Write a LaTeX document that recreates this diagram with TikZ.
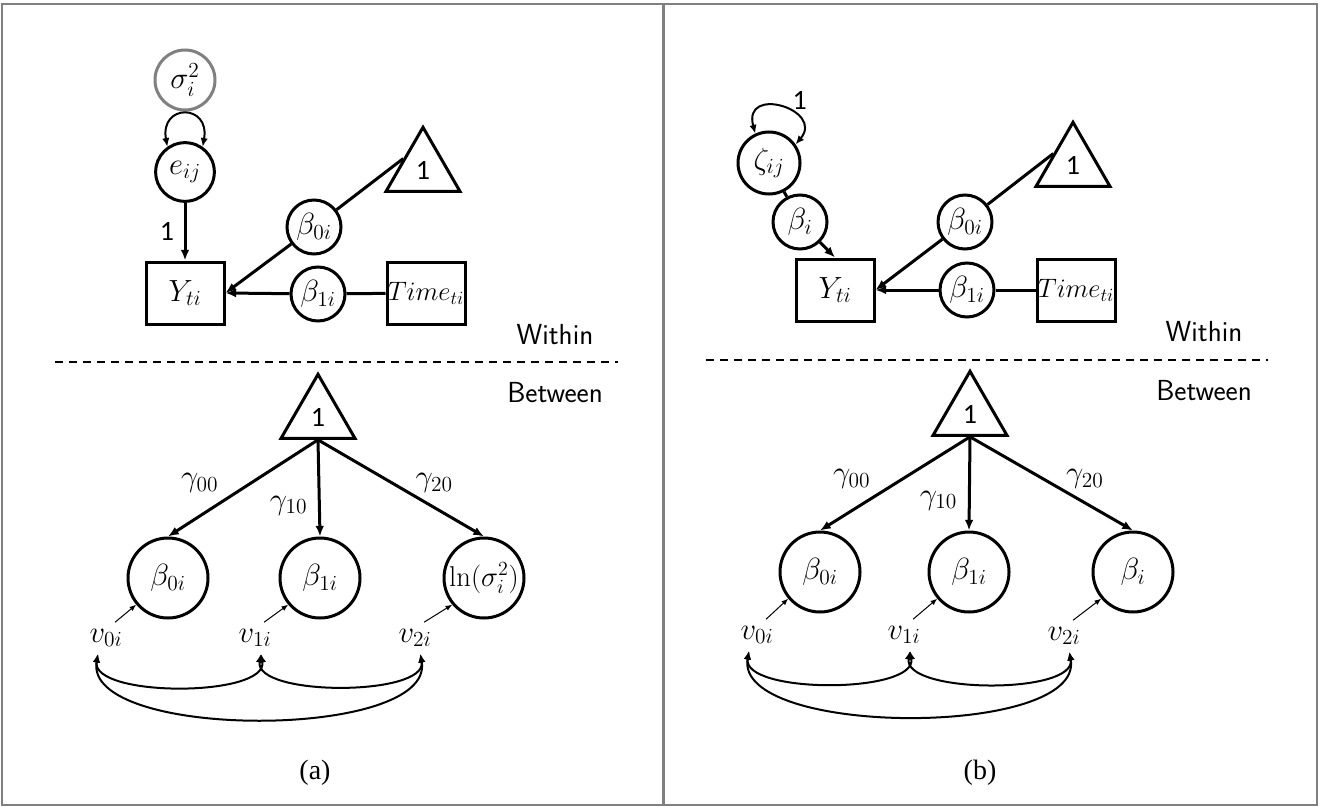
\RequirePackage{fix-cm}
\documentclass[tikz,border=0pt]{standalone}
\usepackage{amsmath}
\usepackage{fontspec}
\newfontfamily\onefont{Carlito}
\newfontfamily\capfont{Liberation Serif}
\usetikzlibrary{shapes.geometric,arrows.meta}

\begin{document}
\begin{tikzpicture}[x=0.75pt,y=-0.75pt,
  font=\fontsize{23}{27}\selectfont,
  >={Latex[length=8pt,width=6.5pt]},
  lat/.style={circle,draw,line width=2.25pt,inner sep=0pt,minimum size=40.5pt},
  latbig/.style={lat,minimum size=60pt},
  obs/.style={rectangle,draw,line width=2.25pt,inner sep=0pt,minimum width=58.5pt,minimum height=46.5pt},
  meanT/.style={regular polygon,regular polygon sides=3,draw,line width=2.25pt,inner sep=0pt,minimum size=64pt,font=\fontsize{21}{25}\onefont},
  lab/.style={inner sep=1pt},
  vlab/.style={inner xsep=1pt,inner ysep=5pt},
  reg/.style={line width=2.25pt},
  resid/.style={line width=0.75pt,-{Latex[length=5pt,width=4pt]}},
  cov/.style={line width=1.5pt,{Latex[length=6.5pt,width=5.5pt]}-{Latex[length=6.5pt,width=5.5pt]}},
  sep/.style={line width=1.5pt,dash pattern=on 6pt off 4.5pt},
  lvltext/.style={font=\fontsize{21.75}{26}\sffamily},
  capt/.style={font=\fontsize{21}{25}\capfont},
  frame/.style={draw=black!50,line width=1.5pt}]
  \useasboundingbox (0,0) rectangle (1319,806);
  \draw[frame] (2,4) rectangle (1317,805);
  \draw[frame,line width=2.25pt] (663,4) -- (663,805);

  % (a) within
  \node[lat,minimum size=45pt,draw=black!50] (sa) at (185,80) {$\sigma_i^2$};
  \node[lat,minimum size=44pt] (ea) at (185,172) {$e_{ij}$};
  \node[obs] (Ya) at (185,293) {$Y_{ti}$};
  \node[obs,font=\fontsize{20}{24}\selectfont] (Ta) at (426,293) {$Time_{ti}$};
  \node[lat] (b0a) at (314,227) {$\beta_{0i}$};
  \node[lat] (b1a) at (318,294) {$\beta_{1i}$};
  \node[meanT] (oa) at (423,170) {1};

  \draw[cov] (ea.125) .. controls +(100:33pt) and +(80:33pt) .. (ea.55);
  \draw[reg,->] (ea) -- node[lab,left=6pt,font=\fontsize{21}{25}\onefont] {1} (Ya);
  \draw[reg] (oa.side 1) -- (b0a);
  \draw[reg,->] (b0a) -- (Ya.east);
  \draw[reg] (Ta) -- (b1a);
  \draw[reg,->] (b1a) -- (Ya.east);

  \coordinate (sepa1) at (55,362);
  \coordinate (sepa2) at (618,362);
  \draw[sep] (sepa1) -- (sepa2);
  \node[lvltext] (wa) at (555,335) {Within};
  \node[lvltext] (bwa) at (555,393) {Between};

  % (a) between
  \node[meanT] (oa2) at (318,417) {1};
  \node[latbig] (c0a) at (168,578) {$\beta_{0i}$};
  \node[latbig] (c1a) at (320,578) {$\beta_{1i}$};
  \node[latbig,font=\fontsize{21.5}{26}\selectfont] (c2a) at (484,578) {$\ln(\sigma_i^2)$};
  \node[vlab] (v0a) at (106,638) {$v_{0i}$};
  \node[vlab] (v1a) at (255,638) {$v_{1i}$};
  \node[vlab] (v2a) at (415,638) {$v_{2i}$};

  \draw[reg,->] (oa2.south) -- node[lab,pos=0.45,left=22pt] {$\gamma_{00}$} (c0a.north);
  \draw[reg,->] (oa2.south) -- node[lab,pos=0.68,left=7pt] {$\gamma_{10}$} (c1a.north);
  \draw[reg,->] (oa2.south) -- node[lab,pos=0.45,right=15pt] {$\gamma_{20}$} (c2a.north);
  \draw[resid] (v0a.60) -- (c0a.220);
  \draw[resid] (v1a.60) -- (c1a.220);
  \draw[resid] (v2a.60) -- (c2a.220);
  \draw[cov] ([xshift=-6pt]v0a.south) to[out=-100,in=-80,looseness=0.7] ([xshift=4.5pt]v1a.south);
  \draw[cov] ([xshift=4.5pt]v1a.south) to[out=-100,in=-80,looseness=0.7] ([xshift=4pt]v2a.south);
  \draw[cov] ([xshift=-6pt]v0a.south) to[out=-100,in=-80,looseness=0.7] ([xshift=4pt]v2a.south);
  \node[capt] (capa) at (315,773) {(a)};

  % (b) within
  \node[lat,minimum size=46.5pt] (zb) at (769,163) {$\zeta_{ij}$};
  \node[lat] (bib) at (800,222) {$\beta_i$};
  \node[obs] (Yb) at (835,290) {$Y_{ti}$};
  \node[obs,font=\fontsize{20}{24}\selectfont] (Tb) at (1076,290) {$Time_{ti}$};
  \node[lat] (b0b) at (965,222) {$\beta_{0i}$};
  \node[lat] (b1b) at (967,290) {$\beta_{1i}$};
  \node[meanT] (ob) at (1073,165) {1};

  \draw[cov] (zb.115) .. controls +(105:38pt) and +(50:34pt) .. node[lab,pos=0.6,above right,font=\fontsize{21}{25}\onefont] {1} (zb.35);
  \draw[reg] (zb) -- (bib);
  \draw[reg,->] (bib) -- (Yb.north);
  \draw[reg] (ob.side 1) -- (b0b);
  \draw[reg,->] (b0b) -- (Yb.east);
  \draw[reg] (Tb) -- (b1b);
  \draw[reg,->] (b1b) -- (Yb.east);

  \coordinate (sepb1) at (706,360);
  \coordinate (sepb2) at (1268,360);
  \draw[sep] (sepb1) -- (sepb2);
  \node[lvltext] (wb) at (1204,332) {Within};
  \node[lvltext] (bwb) at (1204,391) {Between};

  % (b) between
  \node[meanT] (ob2) at (970,414) {1};
  \node[latbig] (c0b) at (820,572) {$\beta_{0i}$};
  \node[latbig] (c1b) at (969,572) {$\beta_{1i}$};
  \node[latbig] (c2b) at (1133,572) {$\beta_i$};
  \node[vlab] (v0b) at (757,635) {$v_{0i}$};
  \node[vlab] (v1b) at (904,635) {$v_{1i}$};
  \node[vlab] (v2b) at (1064,636) {$v_{2i}$};

  \draw[reg,->] (ob2.south) -- node[lab,pos=0.45,left=22pt] {$\gamma_{00}$} (c0b.north);
  \draw[reg,->] (ob2.south) -- node[lab,pos=0.68,left=7pt] {$\gamma_{10}$} (c1b.north);
  \draw[reg,->] (ob2.south) -- node[lab,pos=0.45,right=15pt] {$\gamma_{20}$} (c2b.north);
  \draw[resid] (v0b.60) -- (c0b.220);
  \draw[resid] (v1b.60) -- (c1b.220);
  \draw[resid] (v2b.60) -- (c2b.220);
  \draw[cov] ([xshift=-6pt]v0b.south) to[out=-100,in=-80,looseness=0.7] ([xshift=4.5pt]v1b.south);
  \draw[cov] ([xshift=4.5pt]v1b.south) to[out=-100,in=-80,looseness=0.7] ([xshift=4pt]v2b.south);
  \draw[cov] ([xshift=-6pt]v0b.south) to[out=-100,in=-80,looseness=0.7] ([xshift=4pt]v2b.south);
  \node[capt] (capb) at (980,773) {(b)};
\end{tikzpicture}
\end{document}
